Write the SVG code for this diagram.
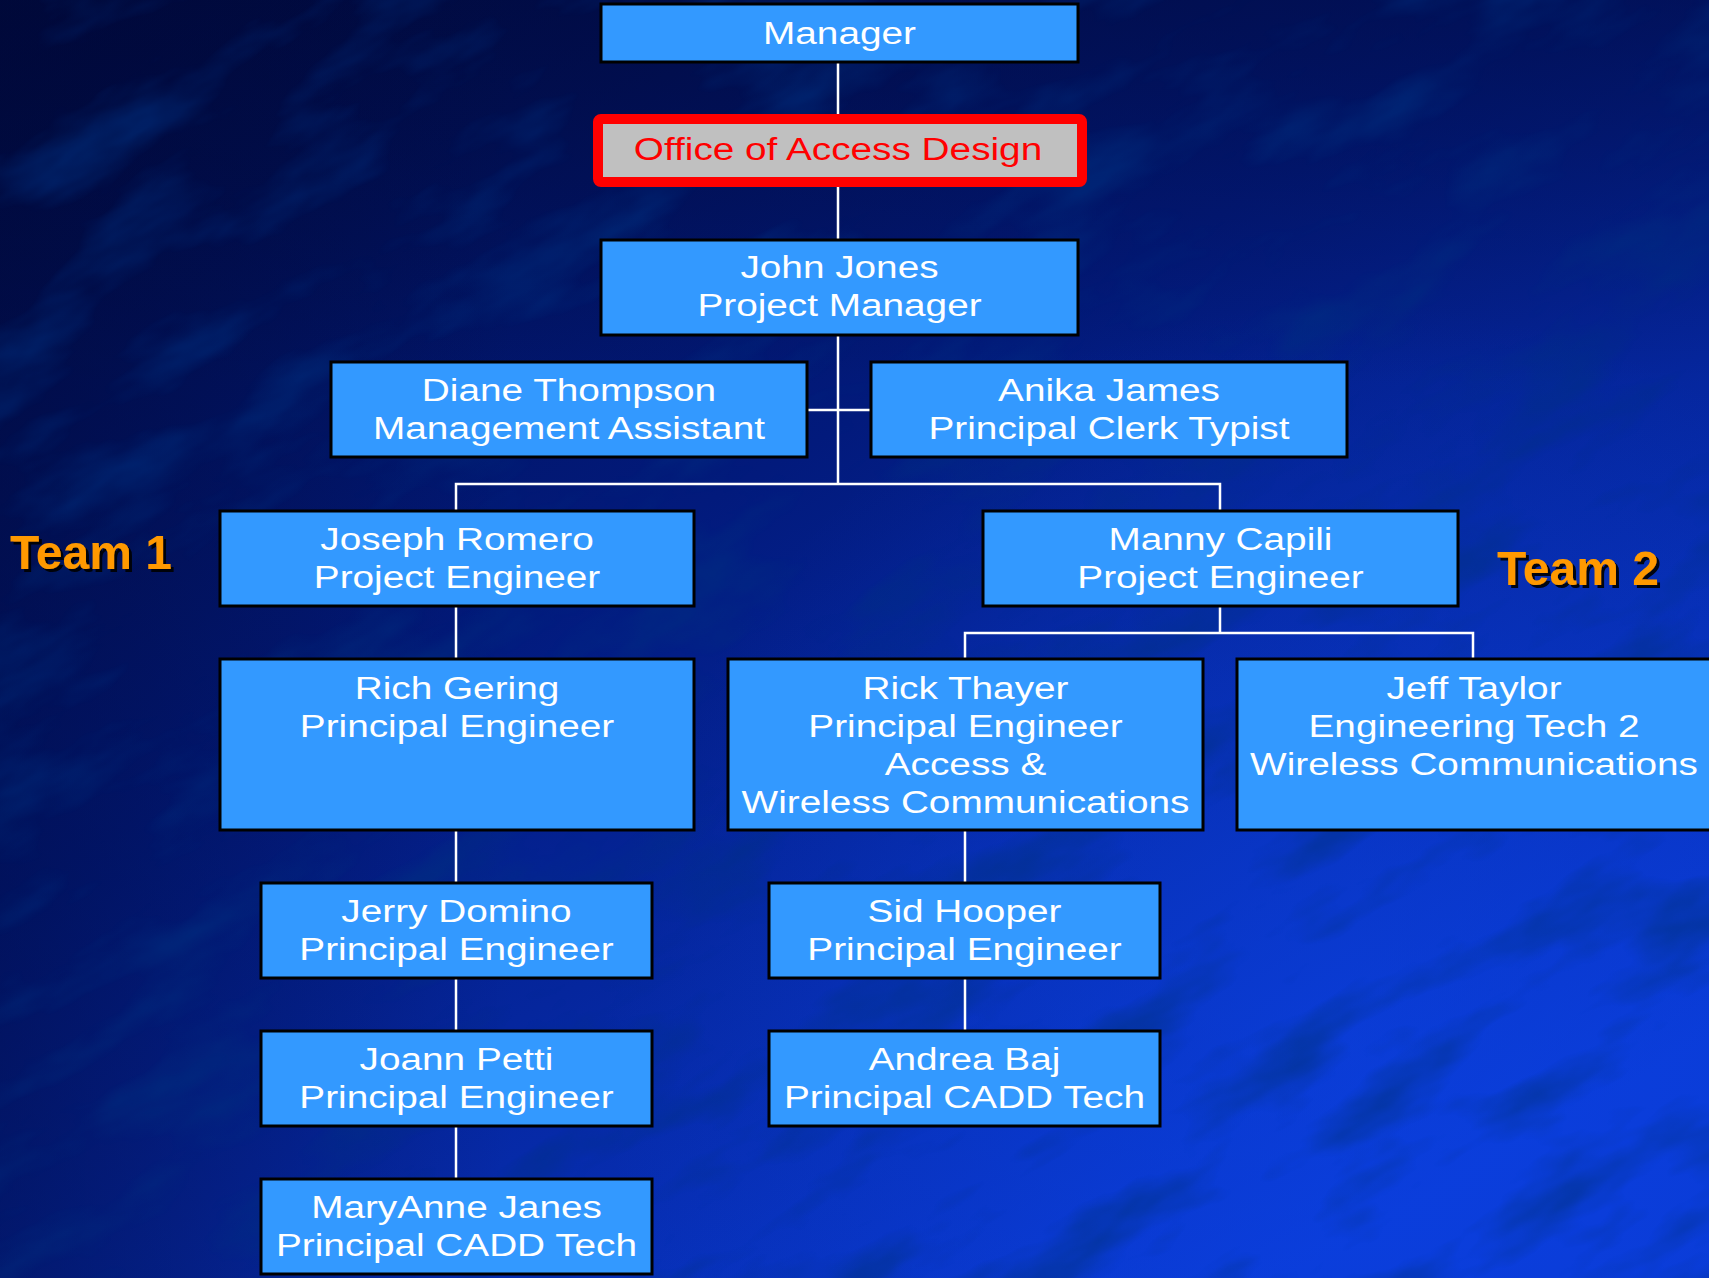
<svg xmlns="http://www.w3.org/2000/svg" width="1709" height="1278" viewBox="0 0 1709 1278">
  <defs>
    <linearGradient id="bg" x1="0" y1="0" x2="0.75" y2="1">
      <stop offset="0" stop-color="#000a3e"/>
      <stop offset="0.45" stop-color="#021a7c"/>
      <stop offset="1" stop-color="#0a3ad4"/>
    </linearGradient>
    <radialGradient id="glow" cx="1350" cy="1050" r="750" gradientUnits="userSpaceOnUse">
      <stop offset="0" stop-color="#0c44e8" stop-opacity="0.5"/>
      <stop offset="1" stop-color="#0c44e8" stop-opacity="0"/>
    </radialGradient>
    <linearGradient id="leftdark" x1="0" y1="0" x2="1" y2="0">
      <stop offset="0" stop-color="#000838" stop-opacity="0.45"/>
      <stop offset="0.3" stop-color="#000838" stop-opacity="0"/>
    </linearGradient>
    <linearGradient id="topdark" x1="0" y1="0" x2="0" y2="1">
      <stop offset="0" stop-color="#000838" stop-opacity="0.5"/>
      <stop offset="0.3" stop-color="#000838" stop-opacity="0"/>
    </linearGradient>
    <filter id="tex" x="0" y="0" width="100%" height="100%">
      <feTurbulence type="fractalNoise" baseFrequency="0.006 0.016" numOctaves="4" seed="11"/>
      <feColorMatrix type="matrix" values="0 0 0 0 0  0 0 0 0 0.03  0 0 0 0 0.22  0 0 0 2.6 -1.25"/>
    </filter>
    <filter id="shadow" x="-10%" y="-10%" width="130%" height="140%">
      <feDropShadow dx="3" dy="3" stdDeviation="0.6" flood-color="#000000" flood-opacity="0.9"/>
    </filter>
  </defs>
  <style>
    .box { fill: #3399ff; stroke: #000000; stroke-width: 3; }
    .lbl { font-family: "Liberation Sans", Arial, sans-serif; font-size: 31px; fill: #ffffff; text-anchor: middle; }
    .team { font-family: "Liberation Sans", Arial, sans-serif; font-size: 48px; font-weight: bold; fill: #ff9900; }
    .conn { stroke: #ffffff; stroke-width: 2.5; fill: none; }
  </style>

  <rect x="0" y="0" width="1709" height="1278" fill="url(#bg)"/>
  <rect x="0" y="0" width="1709" height="1278" fill="url(#glow)"/>
  <rect x="0" y="0" width="1709" height="1278" fill="url(#topdark)"/>
  <rect x="0" y="0" width="1709" height="1278" fill="url(#leftdark)"/>
  <g transform="rotate(-28 854 639)" opacity="0.55">
    <rect x="-400" y="-400" width="2500" height="2100" filter="url(#tex)"/>
  </g>

  <g id="connectors" class="conn">
    <line x1="838" y1="62" x2="838" y2="114"/>
    <line x1="838" y1="187" x2="838" y2="240"/>
    <line x1="838" y1="335" x2="838" y2="484"/>
    <line x1="807" y1="410" x2="871" y2="410"/>
    <polyline points="456,511 456,484 1220,484 1220,511"/>
    <line x1="456" y1="606" x2="456" y2="659"/>
    <line x1="1220" y1="606" x2="1220" y2="633"/>
    <polyline points="965,659 965,633 1473,633 1473,659"/>
    <line x1="456" y1="830" x2="456" y2="883"/>
    <line x1="456" y1="978" x2="456" y2="1031"/>
    <line x1="456" y1="1126" x2="456" y2="1179"/>
    <line x1="965" y1="830" x2="965" y2="883"/>
    <line x1="965" y1="978" x2="965" y2="1031"/>
  </g>

  <g id="manager">
    <rect class="box" x="601" y="4" width="477" height="58"/>
    <text class="lbl" transform="translate(839.5 0) scale(1.25 1)" x="0" y="44">Manager</text>
  </g>

  <g id="office">
    <rect x="598" y="119" width="484" height="63" rx="3" fill="#c0c0c0" stroke="#ff0000" stroke-width="10"/>
    <text class="lbl" style="fill:#ff0000" transform="translate(838 0) scale(1.25 1)" x="0" y="160">Office of Access Design</text>
  </g>

  <g id="john">
    <rect class="box" x="601" y="240" width="477" height="95"/>
    <text class="lbl" transform="translate(839.5 0) scale(1.25 1)"><tspan x="0" y="278">John Jones</tspan><tspan x="0" y="316">Project Manager</tspan></text>
  </g>

  <g id="diane">
    <rect class="box" x="331" y="362" width="476" height="95"/>
    <text class="lbl" transform="translate(569 0) scale(1.25 1)"><tspan x="0" y="401">Diane Thompson</tspan><tspan x="0" y="439">Management Assistant</tspan></text>
  </g>

  <g id="anika">
    <rect class="box" x="871" y="362" width="476" height="95"/>
    <text class="lbl" transform="translate(1109 0) scale(1.25 1)"><tspan x="0" y="401">Anika James</tspan><tspan x="0" y="439">Principal Clerk Typist</tspan></text>
  </g>

  <g id="joseph">
    <rect class="box" x="220" y="511" width="474" height="95"/>
    <text class="lbl" transform="translate(457 0) scale(1.25 1)"><tspan x="0" y="550">Joseph Romero</tspan><tspan x="0" y="588">Project Engineer</tspan></text>
  </g>

  <g id="manny">
    <rect class="box" x="983" y="511" width="475" height="95"/>
    <text class="lbl" transform="translate(1220.5 0) scale(1.25 1)"><tspan x="0" y="550">Manny Capili</tspan><tspan x="0" y="588">Project Engineer</tspan></text>
  </g>

  <g id="team1">
    <text class="team" filter="url(#shadow)" x="10" y="569">Team 1</text>
  </g>
  <g id="team2">
    <text class="team" filter="url(#shadow)" x="1497" y="585">Team 2</text>
  </g>

  <g id="rich">
    <rect class="box" x="220" y="659" width="474" height="171"/>
    <text class="lbl" transform="translate(457 0) scale(1.25 1)"><tspan x="0" y="699">Rich Gering</tspan><tspan x="0" y="737">Principal Engineer</tspan></text>
  </g>

  <g id="rick">
    <rect class="box" x="728" y="659" width="475" height="171"/>
    <text class="lbl" transform="translate(965.5 0) scale(1.25 1)"><tspan x="0" y="699">Rick Thayer</tspan><tspan x="0" y="737">Principal Engineer</tspan><tspan x="0" y="775">Access &amp;</tspan><tspan x="0" y="813">Wireless Communications</tspan></text>
  </g>

  <g id="jeff">
    <rect class="box" x="1237" y="659" width="476" height="171"/>
    <text class="lbl" transform="translate(1474 0) scale(1.25 1)"><tspan x="0" y="699">Jeff Taylor</tspan><tspan x="0" y="737">Engineering Tech 2</tspan><tspan x="0" y="775">Wireless Communications</tspan></text>
  </g>

  <g id="jerry">
    <rect class="box" x="261" y="883" width="391" height="95"/>
    <text class="lbl" transform="translate(456.5 0) scale(1.25 1)"><tspan x="0" y="922">Jerry Domino</tspan><tspan x="0" y="960">Principal Engineer</tspan></text>
  </g>

  <g id="joann">
    <rect class="box" x="261" y="1031" width="391" height="95"/>
    <text class="lbl" transform="translate(456.5 0) scale(1.25 1)"><tspan x="0" y="1070">Joann Petti</tspan><tspan x="0" y="1108">Principal Engineer</tspan></text>
  </g>

  <g id="maryanne">
    <rect class="box" x="261" y="1179" width="391" height="95"/>
    <text class="lbl" transform="translate(456.5 0) scale(1.25 1)"><tspan x="0" y="1218">MaryAnne Janes</tspan><tspan x="0" y="1256">Principal CADD Tech</tspan></text>
  </g>

  <g id="sid">
    <rect class="box" x="769" y="883" width="391" height="95"/>
    <text class="lbl" transform="translate(964.5 0) scale(1.25 1)"><tspan x="0" y="922">Sid Hooper</tspan><tspan x="0" y="960">Principal Engineer</tspan></text>
  </g>

  <g id="andrea">
    <rect class="box" x="769" y="1031" width="391" height="95"/>
    <text class="lbl" transform="translate(964.5 0) scale(1.25 1)"><tspan x="0" y="1070">Andrea Baj</tspan><tspan x="0" y="1108">Principal CADD Tech</tspan></text>
  </g>
</svg>
